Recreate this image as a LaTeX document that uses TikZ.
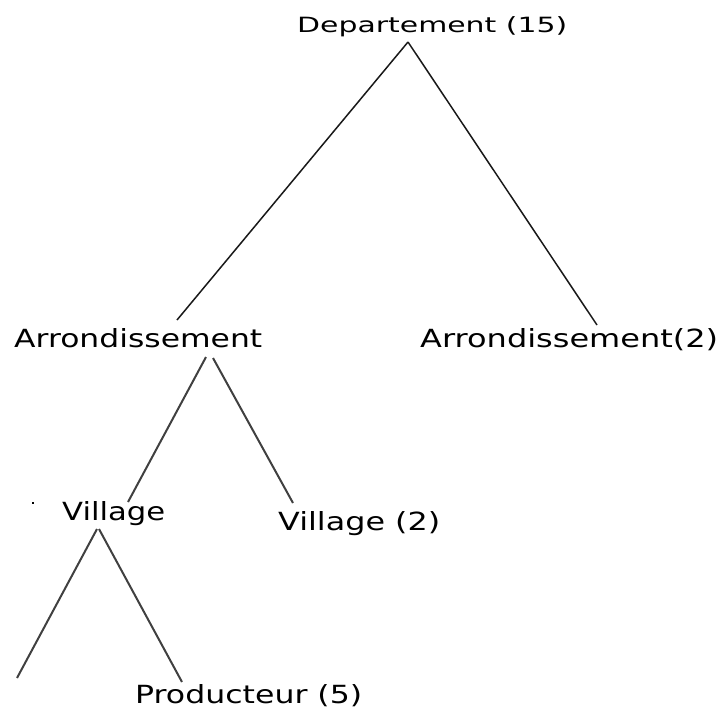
\documentclass[tikz,border=0pt]{standalone}
\usepackage{fontspec}
\setmainfont{DejaVu Sans}
\usepackage{graphicx}
\newcommand{\wlbl}[2]{\resizebox{#1}{\height}{#2}}
\tikzset{
  lbl/.style={inner sep=0pt, anchor=base west, text=black},
  big/.style={font=\fontsize{25}{25}\selectfont},
  small/.style={font=\fontsize{21}{21}\selectfont},
  edge/.style={line width=1.5pt, draw=black!90},
  lowedge/.style={line width=2pt, draw=black!75},
}
\begin{document}
\begin{tikzpicture}[x=1pt,y=-1pt]
\useasboundingbox (0,0) rectangle (723,713);
\node[lbl,small] (dep) at (297,32) {\wlbl{270pt}{Departement (15)}};
\node[lbl,big] (arrL) at (14,347) {\wlbl{248pt}{Arrondissement}};
\node[lbl,big] (arrR) at (420,347) {\wlbl{298pt}{Arrondissement(2)}};
\node[lbl,big] (vilL) at (62,520) {\wlbl{103pt}{Village}};
\node[lbl,big] (vilR) at (278,530) {\wlbl{162pt}{Village (2)}};
\node[lbl,big] (prod) at (135,703) {\wlbl{227pt}{Producteur (5)}};
\coordinate (leafend) at ([shift={(-118,-25)}]prod.base west);
\draw[edge] ([shift={(111,10)}]dep.base west) -- ([shift={(163,-27)}]arrL.base west);
\draw[edge] ([shift={(111,10)}]dep.base west) -- ([shift={(177,-22)}]arrR.base west);
\draw[lowedge] ([shift={(192,10)}]arrL.base west) -- ([shift={(66,-18)}]vilL.base west);
\draw[lowedge] ([shift={(199,11)}]arrL.base west) -- ([shift={(15,-27)}]vilR.base west);
\draw[lowedge] ([shift={(35,9)}]vilL.base west) -- (leafend);
\draw[lowedge] ([shift={(37,9)}]vilL.base west) -- ([shift={(47,-21)}]prod.base west);
\fill[black] (32,502) rectangle (34,504);
\end{tikzpicture}
\end{document}
